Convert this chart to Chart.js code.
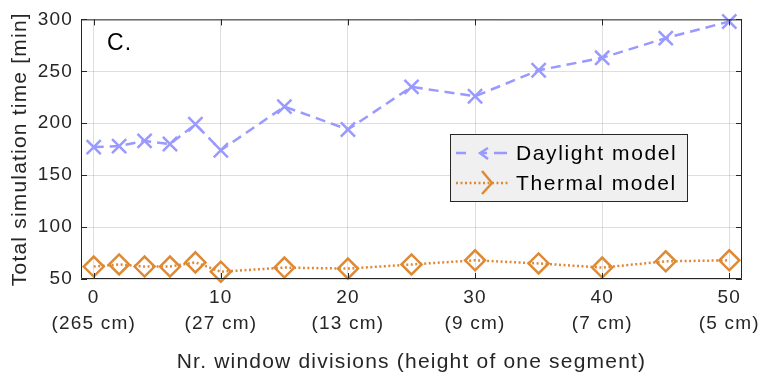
<!DOCTYPE html>
<html>
<head>
<meta charset="utf-8">
<script src="https://cdn.jsdelivr.net/npm/chart.js@4.4.1/dist/chart.umd.min.js"></script>
<style>
  body { margin: 0; background: #fff; }
  canvas { display: block; }
</style>
</head>
<body>
<canvas id="myChart" width="767" height="382"></canvas>
<script>
// window divisions and the resulting segment height
var divisions = [0, 2, 4, 6, 8, 10, 15, 20, 25, 30, 35, 40, 45, 50]
var daylight = [177, 178, 183, 180, 199, 174, 216, 194, 235, 226, 251, 263, 282, 298]
var thermal = [62, 64, 62, 62, 66, 57, 61, 60, 64, 68, 65, 61, 67, 68]

var xTicks = [0, 10, 20, 30, 40, 50]
var segLabels = ['265 cm', '27 cm', '13 cm', '9 cm', '7 cm', '5 cm']
var yTicks = [50, 100, 150, 200, 250, 300]

var corDia = 'rgb(153,153,255)'
var corTerm = 'rgb(222,137,52)'
var corTexto = '#262626'
var fonte = '"Liberation Sans", Arial, sans-serif'

function pontos(ys) {
  var lista = []
  for (var i = 0; i < divisions.length; i++) {
    lista.push({ x: divisions[i], y: ys[i] })
  }
  return lista
}

// the original text is set a bit wider than Arial, so space the letters out
var espacamento = {
  id: 'espacamento',
  beforeUpdate: function (chart) { chart.ctx.letterSpacing = '1.2px' },
  beforeDraw: function (chart) { chart.ctx.letterSpacing = '1.2px' }
}

// frame, inward ticks, legend box and panel letter
var extras = {
  id: 'extras',
  afterDraw: function (chart) {
    var ctx = chart.ctx
    var a = chart.chartArea
    var sx = chart.scales.x
    var sy = chart.scales.y
    ctx.save()
    ctx.strokeStyle = corTexto
    ctx.lineWidth = 1
    ctx.beginPath()
    ctx.rect(a.left + 0.5, a.top + 0.5, a.right - a.left - 1, a.bottom - a.top - 1)
    xTicks.forEach(function (v) {
      var px = Math.round(sx.getPixelForValue(v)) + 0.5
      ctx.moveTo(px, a.bottom); ctx.lineTo(px, a.bottom - 6)
      ctx.moveTo(px, a.top); ctx.lineTo(px, a.top + 6)
    })
    yTicks.forEach(function (v) {
      var py = Math.round(sy.getPixelForValue(v)) + 0.5
      ctx.moveTo(a.left, py); ctx.lineTo(a.left + 6, py)
      ctx.moveTo(a.right, py); ctx.lineTo(a.right - 6, py)
    })
    ctx.stroke()

    // panel letter
    ctx.fillStyle = '#000'
    ctx.font = '23px ' + fonte
    ctx.textBaseline = 'alphabetic'
    ctx.fillText('C.', 107, 50)

    // legend
    ctx.fillStyle = '#f0f0f0'
    ctx.fillRect(450, 134, 238, 68)
    ctx.strokeRect(450.5, 134.5, 237, 67)

    ctx.lineWidth = 2.5
    ctx.strokeStyle = corDia
    ctx.beginPath()
    ctx.moveTo(456, 153); ctx.lineTo(466, 153)
    ctx.moveTo(494, 153); ctx.lineTo(507, 153)
    ctx.moveTo(488, 148); ctx.lineTo(480, 153); ctx.lineTo(488, 159)
    ctx.moveTo(480, 153); ctx.lineTo(487, 153)
    ctx.stroke()

    ctx.strokeStyle = corTerm
    ctx.setLineDash([2, 2.5])
    ctx.beginPath()
    ctx.moveTo(456, 183); ctx.lineTo(510, 183)
    ctx.stroke()
    ctx.setLineDash([])
    ctx.beginPath()
    ctx.moveTo(482, 171); ctx.lineTo(492, 183); ctx.lineTo(482, 194)
    ctx.stroke()

    ctx.fillStyle = '#000'
    ctx.font = '21px ' + fonte
    ctx.letterSpacing = '1.6px'
    ctx.textBaseline = 'middle'
    ctx.fillText('Daylight model', 516, 154)
    ctx.fillText('Thermal model', 516, 184)
    ctx.restore()
  }
}

var config = {
  type: 'line',
  data: {
    datasets: [{
      label: 'Daylight model',
      data: pontos(daylight),
      borderColor: corDia,
      backgroundColor: corDia,
      borderWidth: 2.5,
      borderDash: [10, 6],
      pointStyle: 'crossRot',
      pointRadius: 10,
      pointBorderWidth: 2.5,
      pointHoverRadius: 10,
      fill: false,
      clip: false
    }, {
      label: 'Thermal model',
      data: pontos(thermal),
      borderColor: corTerm,
      backgroundColor: 'rgba(0,0,0,0)',
      borderWidth: 2.5,
      borderDash: [2, 2.5],
      pointStyle: 'rectRot',
      pointRadius: 10,
      pointBorderWidth: 2.5,
      pointHoverRadius: 10,
      fill: false,
      clip: false
    }]
  },
  options: {
    responsive: false,
    animation: false,
    layout: { padding: { top: 15, right: 25, left: 0, bottom: 0 } },
    plugins: {
      legend: { display: false },
      tooltip: { enabled: false }
    },
    scales: {
      x: {
        type: 'linear',
        min: -1,
        max: 51,
        afterBuildTicks: function (scale) {
          scale.ticks = xTicks.map(function (v) { return { value: v } })
        },
        afterFit: function (scale) { scale.height = 103 },
        grid: { color: 'rgba(0,0,0,0.13)', drawTicks: false },
        border: { display: false },
        ticks: {
          padding: 5,
          color: corTexto,
          font: { family: fonte, size: 19, lineHeight: 1.4 },
          maxRotation: 0,
          callback: function (v) {
            var i = xTicks.indexOf(v)
            return [String(v), '(' + segLabels[i] + ')']
          }
        },
        title: {
          display: true,
          text: 'Nr. window divisions (height of one segment)',
          color: corTexto,
          font: { family: fonte, size: 21 },
          padding: { top: 0, bottom: 7 }
        }
      },
      y: {
        min: 50,
        max: 300,
        afterBuildTicks: function (scale) {
          scale.ticks = yTicks.map(function (v) { return { value: v } })
        },
        afterFit: function (scale) { scale.width = 81 },
        grid: { color: 'rgba(0,0,0,0.13)', drawTicks: false },
        border: { display: false },
        ticks: {
          padding: 8,
          color: corTexto,
          font: { family: fonte, size: 19 }
        },
        title: {
          display: true,
          text: 'Total simulation time [min]',
          color: corTexto,
          font: { family: fonte, size: 21 },
          padding: { top: 8, bottom: 0 }
        }
      }
    }
  },
  plugins: [espacamento, extras]
}

window.myChart = new Chart(document.getElementById('myChart'), config)
</script>
</body>
</html>
